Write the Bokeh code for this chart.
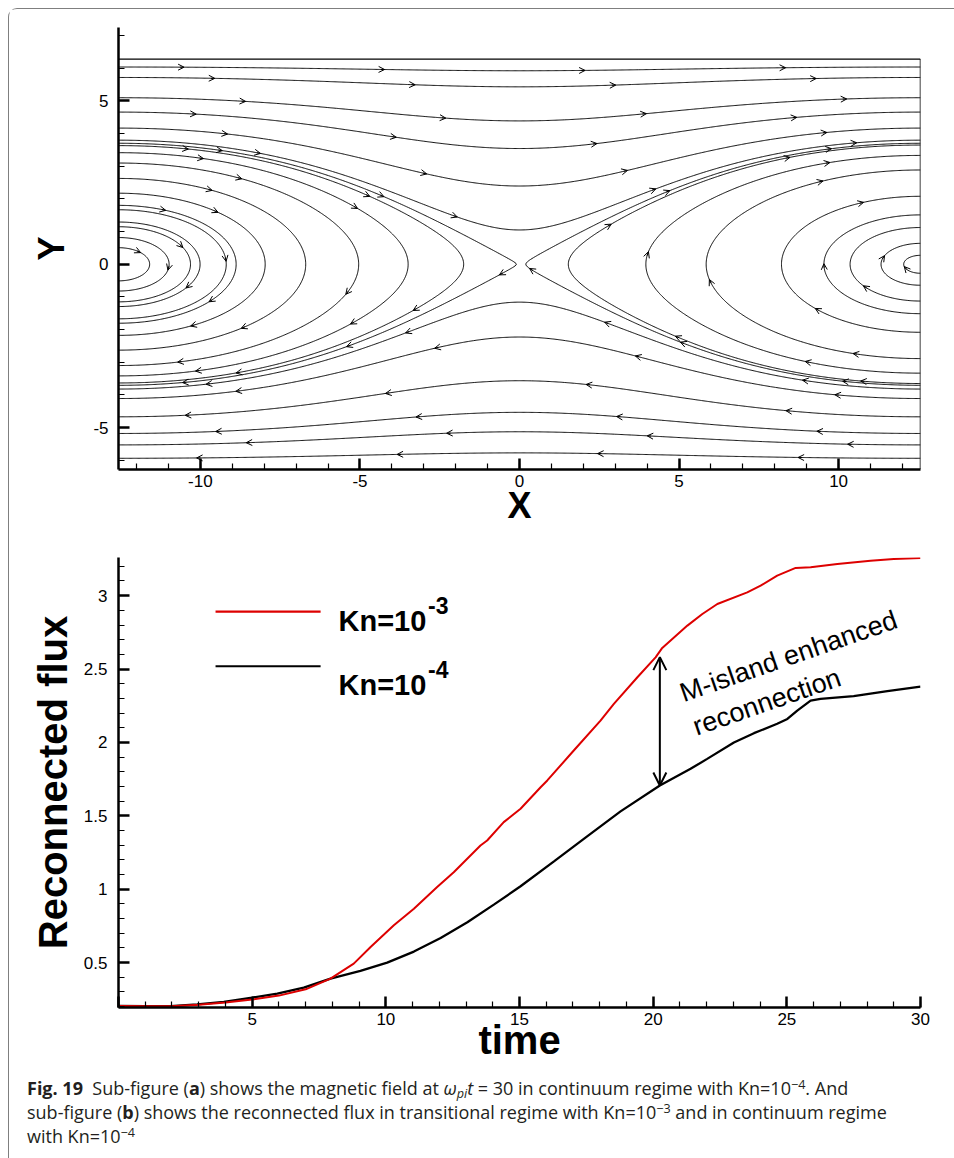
import numpy as np
from bokeh.plotting import figure
from bokeh.models import (Range1d, SingleIntervalTicker, CustomJSTickFormatter, Label,
                          Arrow, OpenHead, ColumnDataSource, Div)
from bokeh.layouts import column
from bokeh.embed import file_html
from bokeh.resources import INLINE
from contourpy import contour_generator

# ---------------- panel (a): magnetic field lines ----------------
x_domain = [-4 * np.pi, 4 * np.pi]
y_domain = [-2 * np.pi, 2 * np.pi]
sheet_width = 2.5      # current-sheet half thickness (model flux function)
island_amp = 0.7       # island amplitude (model flux function)
# field-line seeds
left_island_x = [-11.59, -10.98, -10.31, -10.01, -9.19, -8.88, -7.97, -6.70, -5.04, -3.49, -1.75, -0.10]
right_island_x = [0.20, 1.53, 3.96, 5.85, 8.21, 9.54, 10.36, 11.33, 12.04]
upper_edge_y = [3.80, 4.17, 4.66, 5.10, 5.72, 6.04]
lower_edge_y = [-3.82, -4.11, -4.67, -5.18, -5.53, -5.94]

# ---------------- panel (b): reconnected flux ----------------
time_kn3 = [0, 1, 2, 3, 4, 5, 6, 7, 7.93, 8.8, 9.43, 10.3, 11.05, 11.92, 12.54, 13.54, 13.79,
            14.41, 15.04, 15.79, 16.04, 17.03, 18.03, 18.53, 19.41, 20.09, 20.34, 21.28, 21.84,
            22.4, 23.52, 24.02, 24.64, 25.33, 25.89, 26.89, 28.13, 29.0, 30.0]
flux_kn3 = [0.205, 0.202, 0.203, 0.212, 0.228, 0.248, 0.275, 0.318, 0.391, 0.493, 0.606, 0.754,
            0.867, 1.015, 1.116, 1.298, 1.332, 1.457, 1.548, 1.695, 1.741, 1.945, 2.149, 2.263,
            2.444, 2.58, 2.644, 2.796, 2.875, 2.943, 3.022, 3.068, 3.136, 3.189, 3.193, 3.216,
            3.238, 3.25, 3.257]
time_kn4 = [0, 1, 1.95, 2.94, 3.94, 5.0, 5.94, 6.93, 7.93, 9.05, 10.05, 11.05, 12.05, 13.05,
            14.04, 15.04, 16.29, 17.53, 18.78, 20.25, 21.4, 22.02, 23.02, 23.77, 24.64, 25.02,
            25.39, 25.89, 26.26, 27.5, 28.76, 30.0]
flux_kn4 = [0.205, 0.203, 0.203, 0.215, 0.232, 0.261, 0.289, 0.329, 0.391, 0.443, 0.500, 0.575,
            0.668, 0.775, 0.895, 1.02, 1.19, 1.36, 1.53, 1.707, 1.82, 1.888, 2.0, 2.063, 2.127,
            2.16, 2.217, 2.285, 2.297, 2.315, 2.349, 2.38]
annot_time = 20.25

FONT = "Liberation Sans"


def psi(x, y):
    w = 1.0 - (y / (2 * np.pi)) ** 4
    return sheet_width * np.log(np.cosh(y / sheet_width) + island_amp * w * np.cos(x / 4.0))


def field(x, y, h=1e-4):
    bx = (psi(x, y + h) - psi(x, y - h)) / (2 * h)
    by = -(psi(x + h, y) - psi(x - h, y)) / (2 * h)
    return bx, by


gx = np.linspace(x_domain[0], x_domain[1], 901)
gy = np.linspace(y_domain[0], y_domain[1], 501)
GX, GY = np.meshgrid(gx, gy)
gen = contour_generator(gx, gy, psi(GX, GY), line_type="Separate")

paths = []
for xs in left_island_x:
    for seg in gen.lines(psi(xs, 0.0)):
        if seg[:, 0].mean() < 0:
            paths.append(seg)
for xs in right_island_x:
    for seg in gen.lines(psi(xs, 0.0)):
        if seg[:, 0].mean() > 0:
            paths.append(seg)
for ys in upper_edge_y:
    for seg in gen.lines(psi(x_domain[0], ys)):
        if seg[:, 1].mean() > 0:
            paths.append(seg)
for ys in lower_edge_y:
    for seg in gen.lines(psi(x_domain[0], ys)):
        if seg[:, 1].mean() < 0:
            paths.append(seg)

# arrow marks along each field line
SX, SY = 32.7, 32.6
spacing = 190.0
ax0, ay0, ax1, ay1 = [], [], [], []
for i, seg in enumerate(paths):
    px, py = seg[:, 0] * SX, seg[:, 1] * SY
    s = np.concatenate([[0.0], np.cumsum(np.hypot(np.diff(px), np.diff(py)))])
    L = s[-1]
    if L < 25:
        continue
    n = max(1, int(round(L / spacing)))
    phase = 0.3 + 0.4 * ((i * 0.618) % 1.0)
    for k in range(n):
        sk = (k + phase) * L / n
        xa, ya = np.interp(sk, s, seg[:, 0]), np.interp(sk, s, seg[:, 1])
        xb, yb = np.interp(sk - 4, s, seg[:, 0]), np.interp(sk - 4, s, seg[:, 1])
        bx, by = field(xa, ya)
        if (xa - xb) * bx + (ya - yb) * by < 0:
            xb, yb = 2 * xa - xb, 2 * ya - yb
        ax0.append(xb); ay0.append(yb); ax1.append(xa); ay1.append(ya)


def style_axis(ax, size="17px", hide_zero=False):
    ax.major_tick_in = 11
    ax.major_tick_out = 0
    ax.minor_tick_in = 6
    ax.minor_tick_out = 0
    ax.axis_line_width = 2.5
    ax.major_tick_line_width = 2.5
    ax.minor_tick_line_width = 1.2
    ax.major_label_text_font = FONT
    ax.major_label_text_font_size = size
    ax.major_label_text_color = "black"
    ax.axis_label_text_font = FONT
    ax.axis_label_text_font_style = "bold"
    ax.axis_label_text_color = "black"
    code = "return String(Math.round(tick*10)/10);"
    if hide_zero:
        code = "if (Math.abs(tick) < 1e-9) { return ''; } " + code
    ax.formatter = CustomJSTickFormatter(code=code)


# ---------------- top figure ----------------
p1 = figure(width=945, height=522, x_range=Range1d(*x_domain), y_range=Range1d(y_domain[0], 7.25),
            output_backend="svg", toolbar_location=None,
            min_border_left=109, min_border_right=13, min_border_top=18, min_border_bottom=62)
p1.outline_line_color = None
p1.grid.visible = False
p1.xaxis.ticker = SingleIntervalTicker(interval=5, num_minor_ticks=5)
p1.yaxis.ticker = SingleIntervalTicker(interval=5, num_minor_ticks=5)
style_axis(p1.xaxis[0])
style_axis(p1.yaxis[0])
p1.xaxis.major_label_standoff = 5
p1.yaxis.major_label_standoff = 10
p1.xaxis.axis_label = "X"
p1.xaxis.axis_label_text_font_size = "36px"
p1.xaxis.axis_label_standoff = -5
p1.yaxis.axis_label = "Y"
p1.yaxis.axis_label_text_font_size = "36px"
p1.yaxis.axis_label_standoff = 18

p1.multi_line([list(sg[:, 0]) for sg in paths], [list(sg[:, 1]) for sg in paths],
              line_color="black", line_width=1.0)
p1.line([x_domain[0], x_domain[1]], [y_domain[1], y_domain[1]], line_color="black", line_width=1.2)
p1.line([x_domain[1], x_domain[1]], [y_domain[0], y_domain[1]], line_color="black", line_width=1.5)
arr_src = ColumnDataSource(dict(x0=ax0, y0=ay0, x1=ax1, y1=ay1))
p1.add_layout(Arrow(x_start="x0", y_start="y0", x_end="x1", y_end="y1", source=arr_src,
                    line_width=1, line_color="black",
                    end=OpenHead(size=6, line_width=1, line_color="black")))

# ---------------- bottom figure ----------------
p2 = figure(width=945, height=540, x_range=Range1d(0, 30), y_range=Range1d(0.194, 3.26),
            output_backend="svg", toolbar_location=None,
            min_border_left=109, min_border_right=34, min_border_top=26, min_border_bottom=64)
p2.outline_line_color = None
p2.grid.visible = False
p2.xaxis.ticker = SingleIntervalTicker(interval=5, num_minor_ticks=5)
p2.yaxis.ticker = SingleIntervalTicker(interval=0.5, num_minor_ticks=5)
style_axis(p2.xaxis[0], "17px", hide_zero=True)
style_axis(p2.yaxis[0], "17px")
p2.xaxis.major_label_standoff = 5
p2.yaxis.major_label_standoff = 11
p2.xaxis.axis_label = "time"
p2.xaxis.axis_label_text_font_size = "40px"
p2.xaxis.axis_label_standoff = -10
p2.yaxis.axis_label = "Reconnected flux"
p2.yaxis.axis_label_text_font_size = "40px"
p2.yaxis.axis_label_standoff = 6

RED = "#dd0000"
p2.line(time_kn4, flux_kn4, line_color="black", line_width=2.3)
p2.line(time_kn3, flux_kn3, line_color=RED, line_width=2.0)

# legend
p2.line([3.63, 7.56], [2.891, 2.891], line_color=RED, line_width=2.2)
p2.line([3.63, 7.56], [2.519, 2.519], line_color="black", line_width=2.2)
for yb, ys, sup in [(2.825, 2.93, "-3"), (2.394, 2.50, "-4")]:
    p2.add_layout(Label(x=8.23, y=yb, text="Kn=10", text_font=FONT, text_font_style="bold",
                        text_font_size="29px", text_baseline="alphabetic", text_color="black"))
    p2.add_layout(Label(x=11.58, y=ys, text=sup, text_font=FONT, text_font_style="bold",
                        text_font_size="23px", text_baseline="alphabetic", text_color="black"))

# annotation arrow between curves
y_top = float(np.interp(annot_time, time_kn3, flux_kn3)) - 0.04
y_bot = float(np.interp(annot_time, time_kn4, flux_kn4))
p2.add_layout(Arrow(x_start=annot_time, y_start=y_bot, x_end=annot_time, y_end=y_top,
                    line_width=2, line_color="black",
                    start=OpenHead(size=13, line_width=2, line_color="black"),
                    end=OpenHead(size=13, line_width=2, line_color="black")))
p2.add_layout(Label(x=21.03, y=2.331, text="M-island enhanced", angle=0.335,
                    text_font=FONT, text_font_size="27px", text_baseline="alphabetic",
                    text_color="black"))
p2.add_layout(Label(x=21.52, y=2.103, text="reconnection", angle=0.335,
                    text_font=FONT, text_font_size="27px", text_baseline="alphabetic",
                    text_color="black"))

SUB = '<span style="font-size:70%;vertical-align:-0.2em;line-height:0">'
SUP = '<span style="font-size:70%;vertical-align:0.45em;line-height:0">'
caption_html = (
    '<div style="font-family:\'Open Sans\',sans-serif;font-size:18px;line-height:24px;'
    'color:#231f20;white-space:nowrap;padding-left:13px;">'
    '<b>Fig. 19</b>&nbsp; Sub-figure (<b>a</b>) shows the magnetic field at '
    '<i>&omega;' + SUB + 'pi</span>t</i> = 30 in continuum regime with '
    'Kn=10' + SUP + '&minus;4</span>. And<br>'
    'sub-figure (<b>b</b>) shows the reconnected flux in transitional regime with '
    'Kn=10' + SUP + '&minus;3</span> and in continuum regime<br>'
    'with Kn=10' + SUP + '&minus;4</span></div>'
)
cap = Div(text=caption_html, width=945, height=86)

layout = column(p1, p2, cap, margin=(8, 0, 0, 8),
                styles={"border-top": "1px solid #7f7f7f", "border-left": "1px solid #7f7f7f",
                        "border-top-left-radius": "9px"})

open("out.html", "w").write(file_html(layout, INLINE))
